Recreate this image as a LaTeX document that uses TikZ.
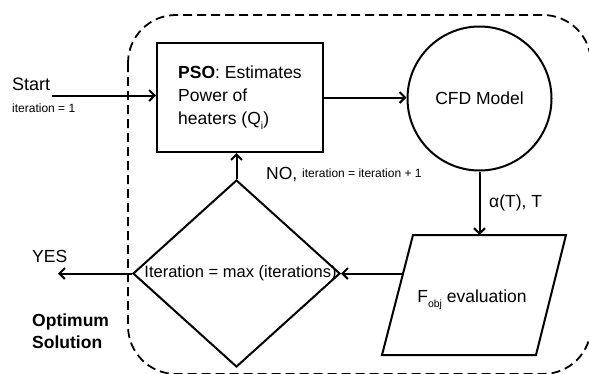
\documentclass[tikz,border=0pt]{standalone}
\usepackage{fontspec}
\setmainfont{Liberation Sans}
\usetikzlibrary{arrows.meta,shapes.geometric}
\newcommand\mysub[1]{\raisebox{-0.3em}{\fontsize{10.5}{11}\selectfont #1}}
\begin{document}
\begin{tikzpicture}[x=1pt,y=-1pt,
  conn/.style={line width=2pt,-{Straight Barb[length=5.5pt,width=11pt,line width=2pt]}},
  box/.style={draw,line width=2pt},
  big/.style={font=\fontsize{17.5}{23}\selectfont},
  small/.style={font=\fontsize{12}{14}\selectfont},
  lbl/.style={inner sep=0pt}]
\useasboundingbox (0,0) rectangle (589,373);
\clip (0,0) rectangle (589,373);
% dashed boundary
\draw[line width=1.8pt, dash pattern=on 9pt off 5pt, rounded corners=48pt] (128,15) rectangle (591,374);
% PSO box
\node[box, minimum width=166pt, minimum height=109pt, inner sep=0pt, align=left, big] (pso) at (240,97.5)
  {\textbf{PSO}: Estimates\\Power of\\heaters (Q\mysub{i})};
% CFD model
\node[circle, box, minimum size=144pt, inner sep=0pt, big] (cfd) at (479.5,98.5) {CFD Model};
% F_obj parallelogram
\draw[box] (413,235) coordinate (ftl) -- (566,235) coordinate (ftr) -- (536,355) coordinate (fbr) -- (382,355) coordinate (fbl) -- cycle;
\coordinate (fout) at (403.2,273.5);
\node[big, lbl] (fobj) at (472,300) {F\mysub{obj} evaluation};
% decision diamond
\node[diamond, box, minimum width=207pt, minimum height=187pt, inner sep=0pt] (dec) at (236.5,273.5) {};
\node[lbl, font=\fontsize{16.5}{20}\selectfont] (dectext) at (240.5,273.5) {Iteration = max (iterations)};
% connectors
\coordinate (startpt) at (52,95.5);
\coordinate (yesend) at (58,273.5);
\draw[conn] (startpt) -- (startpt -| pso.west);
\draw[conn] (pso.east) -- (pso.east -| cfd.west);
\draw[conn] (cfd.south) -- (cfd.south |- ftl);
\draw[conn] (fout) -- (dec.east);
\draw[conn] (dec.north) -- (dec.north |- pso.south);
\draw[conn] (dec.west) -- (yesend);
% labels
\node[lbl, anchor=base west, font=\fontsize{18}{22}\selectfont] (start) at (12,90) {Start};
\node[small, lbl, anchor=base west] (it1) at (12,112) {iteration = 1};
\node[big, lbl, anchor=base west] (no) at (266,179) {NO,};
\node[small, lbl, anchor=base west] (itinc) at (302,177) {iteration = iteration + 1};
\node[big, lbl, anchor=base west] (alpha) at (489,207) {α(T), T};
\node[big, lbl, anchor=base west] (yes) at (32,262) {YES};
\node[lbl, anchor=north west, align=left, font={\fontsize{17.5}{22}\selectfont\bfseries}] (opt) at (32,314) {Optimum\\Solution};
\end{tikzpicture}
\end{document}
